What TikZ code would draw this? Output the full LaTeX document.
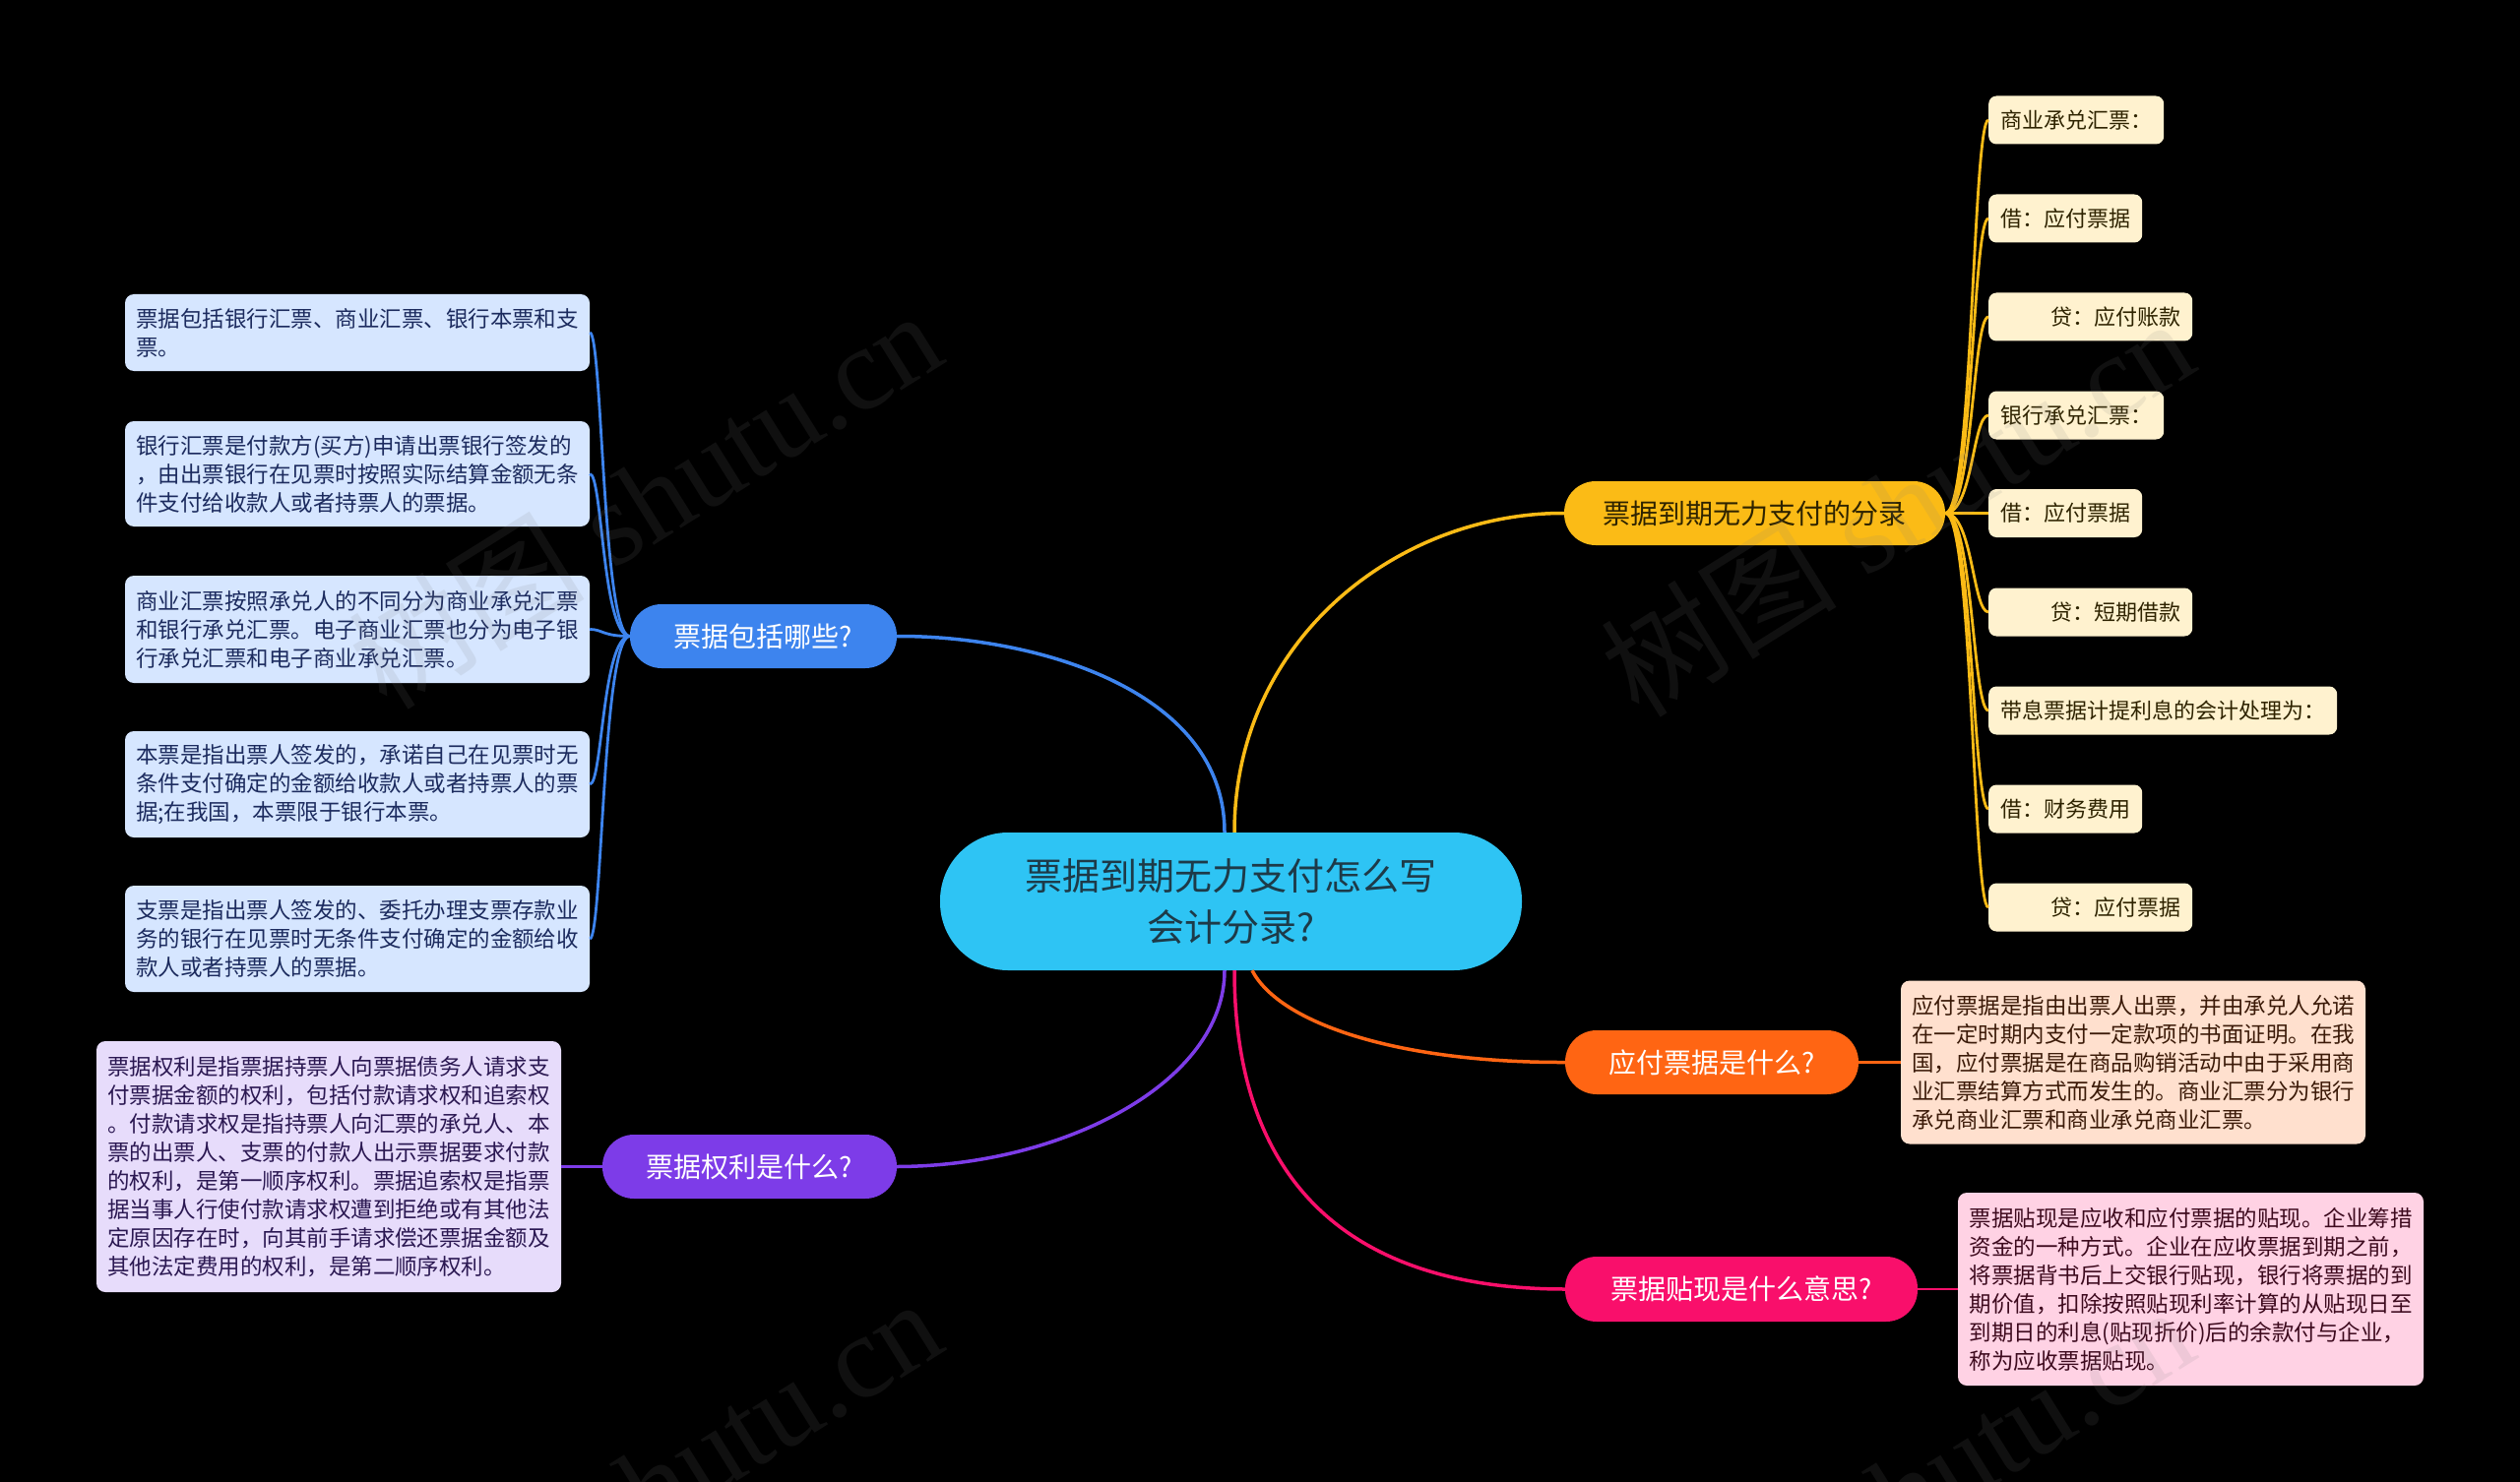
\documentclass[tikz,border=0pt]{standalone}
\usepackage{fontspec}
\setmainfont{Noto Sans CJK SC}
\newfontfamily\wmfont{Liberation Serif}

% colours of the map
\definecolor{hubfill}{HTML}{2EC4F4}
\definecolor{hubtext}{HTML}{1D3A48}
\definecolor{bluemain}{HTML}{3D84EE}
\definecolor{blueleaf}{HTML}{D6E6FF}
\definecolor{bluetext}{HTML}{1C2B5E}
\definecolor{purplemain}{HTML}{7D3CE8}
\definecolor{purpleleaf}{HTML}{E7DCFB}
\definecolor{purpletext}{HTML}{2B1852}
\definecolor{yellowmain}{HTML}{FBBB16}
\definecolor{yellowleaf}{HTML}{FFF2CF}
\definecolor{yellowtext}{HTML}{2E2300}
\definecolor{orangemain}{HTML}{FF6513}
\definecolor{orangeleaf}{HTML}{FFE0CE}
\definecolor{orangetext}{HTML}{3B1A08}
\definecolor{pinkmain}{HTML}{F90F6B}
\definecolor{pinkleaf}{HTML}{FFD2E4}
\definecolor{pinktext}{HTML}{3D0A1E}

\tikzset{
  hub/.style={fill=hubfill, text=hubtext, rounded corners=69pt, minimum width=591pt,
    minimum height=140pt, align=center, font=\fontsize{38}{52}\selectfont},
  branch/.style={fill=#1main, rounded corners=32pt, minimum height=65pt, inner xsep=0pt,
    font=\fontsize{28}{34}\selectfont},
  leaf/.style={fill=#1leaf, text=#1text, rounded corners=9pt, align=left, minimum width=472pt,
    inner xsep=0pt, font=\fontsize{22.5}{29}\selectfont},
  tip/.style={fill=yellowleaf, text=yellowtext, rounded corners=8pt, anchor=west,
    minimum height=49pt, inner xsep=12pt, font=\fontsize{22}{26}\selectfont},
  link/.style={line width=3.5pt, draw=#1main},
  twig/.style={line width=2.8pt, draw=#1main},
  wm/.style={text=gray, text opacity=0.13, rotate=32, font=\wmfont\fontsize{120}{120}\selectfont}
}

\begin{document}
\begin{tikzpicture}[x=1pt, y=-1pt]
  % Background
  \fill[black] (0,0) rectangle (2560,1506);
  \useasboundingbox (0,0) rectangle (2560,1506);
  \clip (0,0) rectangle (2560,1506);

  % Centre
  \node[hub] (hub) at (1250.5,916) {票据到期无力支付怎么写\\会计分录?};

  % Branches
  \node[branch=blue, text=white, minimum width=271pt] (bao) at (775.5,646.5) {票据包括哪些?};
  \node[branch=purple, text=white, minimum width=299pt] (quan) at (761.5,1185.5) {票据权利是什么?};
  \node[branch=yellow, text=yellowtext, minimum width=387pt] (fenlu) at (1782.5,521.5) {票据到期无力支付的分录};
  \node[branch=orange, text=white, minimum width=298pt] (yingfu) at (1739,1079.5) {应付票据是什么?};
  \node[branch=pink, text=white, minimum width=358pt, minimum height=66pt] (tiexian) at (1769,1310) {票据贴现是什么意思?};

  % Left leaves
  \node[leaf=blue, minimum height=78pt] (bao1) at (363,338) {票据包括银行汇票、商业汇票、银行本票和支\\票。};
  \node[leaf=blue, minimum height=107pt] (bao2) at (363,481.5) {银行汇票是付款方(买方)申请出票银行签发的\\，由出票银行在见票时按照实际结算金额无条\\件支付给收款人或者持票人的票据。};
  \node[leaf=blue, minimum height=109pt] (bao3) at (363,639.5) {商业汇票按照承兑人的不同分为商业承兑汇票\\和银行承兑汇票。电子商业汇票也分为电子银\\行承兑汇票和电子商业承兑汇票。};
  \node[leaf=blue, minimum height=108pt] (bao4) at (363,797) {本票是指出票人签发的，承诺自己在见票时无\\条件支付确定的金额给收款人或者持票人的票\\据;在我国，本票限于银行本票。};
  \node[leaf=blue, minimum height=108pt] (bao5) at (363,954) {支票是指出票人签发的、委托办理支票存款业\\务的银行在见票时无条件支付确定的金额给收\\款人或者持票人的票据。};
  \node[leaf=purple, minimum height=255pt] (quan1) at (334,1185.5) {票据权利是指票据持票人向票据债务人请求支\\付票据金额的权利，包括付款请求权和追索权\\。付款请求权是指持票人向汇票的承兑人、本\\票的出票人、支票的付款人出示票据要求付款\\的权利，是第一顺序权利。票据追索权是指票\\据当事人行使付款请求权遭到拒绝或有其他法\\定原因存在时，向其前手请求偿还票据金额及\\其他法定费用的权利，是第二顺序权利。};

  % Right leaves
  \node[tip] (fenlu1) at (2020,122) {商业承兑汇票：};
  \node[tip] (fenlu2) at (2020,222) {借：应付票据};
  \node[tip] (fenlu3) at (2020,322) {\hspace*{51pt}贷：应付账款};
  \node[tip] (fenlu4) at (2020,422) {银行承兑汇票：};
  \node[tip] (fenlu5) at (2020,521.5) {借：应付票据};
  \node[tip] (fenlu6) at (2020,622) {\hspace*{51pt}贷：短期借款};
  \node[tip] (fenlu7) at (2020,722) {带息票据计提利息的会计处理为：};
  \node[tip] (fenlu8) at (2020,822) {借：财务费用};
  \node[tip] (fenlu9) at (2020,922) {\hspace*{51pt}贷：应付票据};
  \node[leaf=orange, minimum height=166pt] (yingfu1) at (2167,1079.5) {应付票据是指由出票人出票，并由承兑人允诺\\在一定时期内支付一定款项的书面证明。在我\\国，应付票据是在商品购销活动中由于采用商\\业汇票结算方式而发生的。商业汇票分为银行\\承兑商业汇票和商业承兑商业汇票。};
  \node[leaf=pink, minimum width=473pt, minimum height=196pt] (tiexian1) at (2225.5,1310) {票据贴现是应收和应付票据的贴现。企业筹措\\资金的一种方式。企业在应收票据到期之前，\\将票据背书后上交银行贴现，银行将票据的到\\期价值，扣除按照贴现利率计算的从贴现日至\\到期日的利息(贴现折价)后的余款付与企业，\\称为应收票据贴现。};

  % Centre to branches
  \coordinate (hubN1) at ([xshift=-6.5pt]hub.north);
  \coordinate (hubN2) at ([xshift=3.5pt]hub.north);
  \coordinate (hubS1) at ([xshift=-6.5pt]hub.south);
  \coordinate (hubS2) at ([xshift=3.5pt]hub.south);
  \coordinate (hubS3) at ([xshift=21.5pt]hub.south);
  \draw[link=blue] (hubN1) .. controls (1244,700) and (1050,646) .. (bao.east);
  \draw[link=yellow] (hubN2) .. controls (1254,650) and (1420,521) .. (fenlu.west);
  \draw[link=purple] (hubS1) .. controls (1244,1100) and (1080,1185) .. (quan.east);
  \draw[link=pink] (hubS2) .. controls (1254,1200) and (1370,1310) .. (tiexian.west);
  \draw[link=orange] (hubS3) .. controls (1300,1040) and (1420,1080) .. (yingfu.west);

  % Branches to leaves
  \coordinate (trunkL) at (612,646.5);
  \foreach \n in {1,...,5}
    \draw[twig=blue] (bao.west) .. controls (trunkL) and (bao\n.east -| trunkL) .. (bao\n.east);
  \coordinate (trunkR) at (2004,521.5);
  \foreach \n in {1,...,9}
    \draw[twig=yellow] (fenlu.east) .. controls (trunkR) and (fenlu\n.west -| trunkR) .. (fenlu\n.west);
  \draw[twig=purple] (quan.west) -- (quan1.east);
  \draw[twig=orange] (yingfu.east) -- (yingfu1.west);
  \draw[twig=pink] (tiexian.east) -- (tiexian1.west);

  % Watermarks
  \node[wm] (wm1) at (655,506) {{\rmfamily 树图} shutu.cn};
  \node[wm] (wm2) at (1927,514) {{\rmfamily 树图} shutu.cn};
  \node[wm] (wm3) at (655,1510) {{\rmfamily 树图} shutu.cn};
  \node[wm] (wm4) at (1927,1518) {{\rmfamily 树图} shutu.cn};
\end{tikzpicture}
\end{document}
